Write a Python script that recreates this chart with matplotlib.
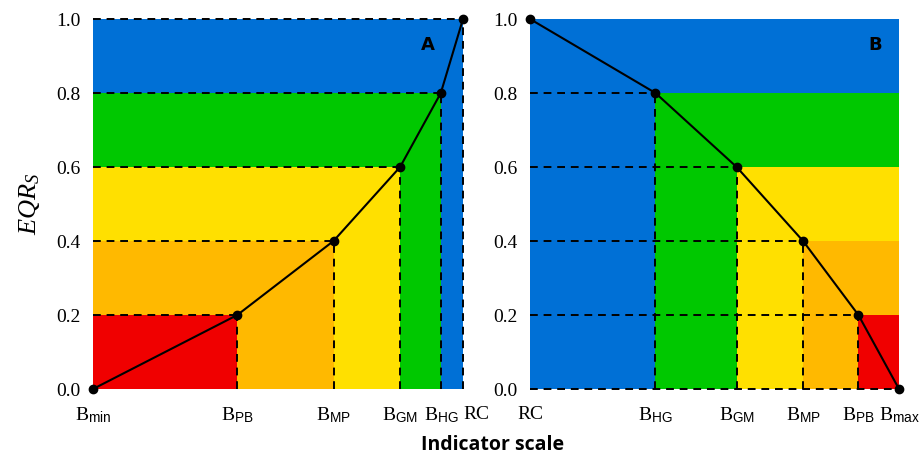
import matplotlib.pyplot as plt

# class colours, bad -> high
class_colors = ["#F00000", "#FFB900", "#FFE000", "#00C800", "#0070D6"]
eqr_bounds = [0.0, 0.2, 0.4, 0.6, 0.8, 1.0]

# panel A: indicator increases with quality
a_labels = [r"B$_{\mathrm{min}}$", r"B$_{\mathrm{PB}}$", r"B$_{\mathrm{MP}}$",
            r"B$_{\mathrm{GM}}$", r"B$_{\mathrm{HG}}$", "RC"]
a_x = [0, 39, 65, 83, 94, 100]
a_eqr = [0.0, 0.2, 0.4, 0.6, 0.8, 1.0]

# panel B: indicator decreases with quality
b_labels = ["RC", r"B$_{\mathrm{HG}}$", r"B$_{\mathrm{GM}}$",
            r"B$_{\mathrm{MP}}$", r"B$_{\mathrm{PB}}$", r"B$_{\mathrm{max}}$"]
b_x = [0, 34, 56, 74, 89, 100]
b_eqr = [1.0, 0.8, 0.6, 0.4, 0.2, 0.0]

plt.rcParams['font.family'] = ['Liberation Serif']
plt.rcParams['mathtext.fontset'] = 'custom'
plt.rcParams['mathtext.rm'] = 'Liberation Sans'
plt.rcParams['mathtext.it'] = 'Liberation Serif:italic'

fig = plt.figure(figsize=(9.2, 4.58), dpi=100)
axA = fig.add_axes([93/920, 1-389/458, 370/920, 370/458])
axB = fig.add_axes([530/920, 1-389/458, 369/920, 370/458])

dash = dict(color="black", linestyle=(0, (4, 3)), linewidth=1.4)


def style(ax, xs, labels):
  ax.set_xlim(0, 100)
  ax.set_ylim(0, 1.0)
  for s in ax.spines.values():
    s.set_visible(False)
  ax.set_xticks(xs)
  ax.set_xticklabels(labels, fontsize=14)
  ax.set_yticks([0, 0.2, 0.4, 0.6, 0.8, 1.0])
  ax.set_yticklabels(["0.0", "0.2", "0.4", "0.6", "0.8", "1.0"], fontsize=14)
  ax.tick_params(axis="x", length=0, pad=12)
  ax.tick_params(axis="y", length=0, pad=9)


# ---- panel A
axA.axhspan(0, 1, color=class_colors[4], lw=0)
for i in range(3, -1, -1):
  axA.fill_between([0, a_x[i + 1]], 0, eqr_bounds[i + 1], color=class_colors[i], lw=0)
for x, y in zip(a_x[1:], a_eqr[1:]):
  axA.plot([0, x], [y, y], **dash, clip_on=False)
  axA.plot([x, x], [0, y], **dash, clip_on=False)
axA.plot(a_x, a_eqr, color="black", lw=1.5, marker="o", ms=6, clip_on=False, zorder=5)
axA.text(90.5, 0.93, "A", fontsize=13, fontweight="bold", family="DejaVu Sans", ha="center", va="center")
style(axA, a_x, a_labels)
axA.set_ylabel(r"$EQR_S$", fontsize=19, labelpad=10)
# RC sits right after B_HG in the original
axA.get_xticklabels()[-1].set_ha("left")

# ---- panel B
axB.axhspan(0, 1, color=class_colors[4], lw=0)
for i in range(3, -1, -1):
  j = 4 - i
  axB.fill_between([b_x[j], 100], 0, eqr_bounds[i + 1], color=class_colors[i], lw=0)
for x, y in zip(b_x[1:-1], b_eqr[1:-1]):
  axB.plot([0, x], [y, y], **dash, clip_on=False)
  axB.plot([x, x], [0, y], **dash, clip_on=False)
axB.plot([0, 100], [0, 0], **dash, clip_on=False)
axB.plot(b_x, b_eqr, color="black", lw=1.5, marker="o", ms=6, clip_on=False, zorder=5)
axB.text(93.5, 0.93, "B", fontsize=13, fontweight="bold", family="DejaVu Sans", ha="center", va="center")
style(axB, b_x, b_labels)

fig.text(0.535, 0.028, "Indicator scale", fontsize=14, fontweight="bold",
         family="Open Sans", ha="center", va="center")

fig.savefig("out.png", dpi=100)
